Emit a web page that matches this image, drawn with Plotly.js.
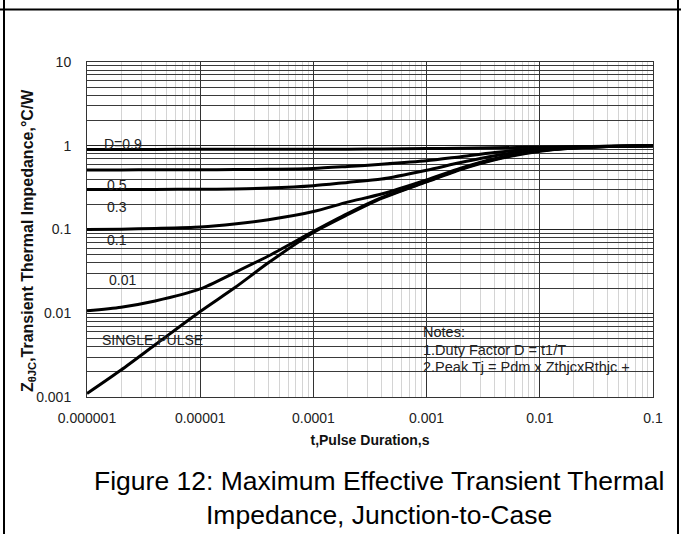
<!DOCTYPE html>
<html>
<head>
<meta charset="utf-8">
<script src="https://cdn.plot.ly/plotly-3.0.1.min.js"></script>
<style>html,body{margin:0;padding:0;background:#fff;}#chart{width:681px;height:534px;}</style>
</head>
<body>
<div id="chart"></div>
<script>
// Pulse duration (s)
var pulseTime = [1e-6, 2e-6, 4e-6, 1e-5, 2e-5, 4e-5, 1e-4, 2e-4, 4e-4, 1e-3, 2e-3, 4e-3, 1e-2, 2e-2, 4e-2, 1e-1];
// Transient thermal impedance (°C/W) per duty factor
var zD09    = [0.905, 0.905, 0.905, 0.906, 0.906, 0.907, 0.908, 0.910, 0.915, 0.925, 0.935, 0.945, 0.960, 0.975, 0.988, 1.0];
var zD05    = [0.515, 0.515, 0.516, 0.517, 0.519, 0.523, 0.535, 0.565, 0.600, 0.660, 0.740, 0.830, 0.930, 0.965, 0.985, 1.0];
var zD03    = [0.300, 0.300, 0.301, 0.302, 0.305, 0.312, 0.333, 0.365, 0.400, 0.510, 0.630, 0.760, 0.900, 0.950, 0.980, 1.0];
var zD01    = [0.100, 0.101, 0.103, 0.107, 0.116, 0.131, 0.164, 0.212, 0.265, 0.390, 0.540, 0.700, 0.880, 0.940, 0.980, 1.0];
var zD001   = [0.0107, 0.0118, 0.0140, 0.0195, 0.0304, 0.0483, 0.095, 0.155, 0.240, 0.375, 0.530, 0.690, 0.870, 0.940, 0.980, 1.0];
var zSingle = [0.0011, 0.0021, 0.0042, 0.0105, 0.0200, 0.0400, 0.092, 0.150, 0.235, 0.370, 0.520, 0.680, 0.860, 0.940, 0.980, 1.0];

var seriesNames = ["D=0.9", "0.5", "0.3", "0.1", "0.01", "SINGLE PULSE"];
var seriesValues = [zD09, zD05, zD03, zD01, zD001, zSingle];

var xTickVals = [1e-6, 1e-5, 1e-4, 1e-3, 1e-2, 1e-1];
var xTickText = ["0.000001", "0.00001", "0.0001", "0.001", "0.01", "0.1"];
var yTickVals = [0.001, 0.01, 0.1, 1, 10];
var yTickText = ["0.001", "0.01", "0.1", "1", "10"];

var curveLabels = ["D=0.9", "0.5", "0.3", "0.1", "0.01", "SINGLE PULSE"];
var notesLines = ["Notes:", "1.Duty Factor D = t1/T", "2.Peak Tj = Pdm x ZthjcxRthjc +"];
var captionLines = ["Figure 12: Maximum Effective Transient Thermal", "Impedance, Junction-to-Case"];

var FONT = "Liberation Sans, Arial, sans-serif";

// plot area geometry (px) for converting placement to paper coords
var W = 681, H = 534, L = 87, R = 28, T = 62, B = 137;
var PW = W - L - R, PH = H - T - B;
function px(x){ return (x - L) / PW; }
function py(y){ return (H - B - y) / PH; }

var traces = seriesValues.map(function(v, i){
  return {
    x: pulseTime, y: v, type: "scatter", mode: "lines", name: seriesNames[i],
    line: {color: "#000", width: 3, shape: "spline", smoothing: 0.7},
    showlegend: false, hoverinfo: "skip"
  };
});

var labelPos = [[102,144],[105,185],[105,207],[105,240],[107,280],[100,340]];
var annotations = curveLabels.map(function(t, i){
  return {text: t, xref: "paper", yref: "paper", x: px(labelPos[i][0]), y: py(labelPos[i][1]),
    xanchor: "left", yanchor: "middle", showarrow: false, font: {family: FONT, size: 14, color: "#222"}};
});
var notesY = [332, 349.5, 367];
notesLines.forEach(function(t, i){
  annotations.push({text: t, xref: "paper", yref: "paper", x: px(421), y: py(notesY[i]),
    xanchor: "left", yanchor: "middle", showarrow: false, font: {family: FONT, size: 14.5, color: "#222"}});
});
var capY = [480.5, 514.5];
captionLines.forEach(function(t, i){
  annotations.push({text: t, xref: "paper", yref: "paper", x: px(379), y: py(capY[i]),
    xanchor: "center", yanchor: "middle", showarrow: false, font: {family: FONT, size: 26.5, color: "#000"}});
});
// y axis title
annotations.push({text: "Z<sub>θJC</sub>,Transient Thermal Impedance,°C/W", xref: "paper", yref: "paper",
  x: px(28), y: py(241), textangle: -90, xanchor: "center", yanchor: "middle", showarrow: false,
  font: {family: FONT, size: 16, color: "#111", weight: "bold"}});

var shapes = [
  {type: "line", xref: "paper", yref: "paper", x0: px(0), x1: px(681), y0: py(9.5), y1: py(9.5), line: {color: "#000", width: 2}},
  {type: "line", xref: "paper", yref: "paper", x0: px(4), x1: px(4), y0: py(0), y1: py(534), line: {color: "#000", width: 2}},
  {type: "line", xref: "paper", yref: "paper", x0: px(678), x1: px(678), y0: py(0), y1: py(534), line: {color: "#000", width: 2}}
];

var layout = {
  width: W, height: H,
  margin: {l: L, r: R, t: T, b: B, pad: 0},
  paper_bgcolor: "#fff", plot_bgcolor: "#fff",
  font: {family: FONT, size: 14, color: "#222"},
  showlegend: false,
  xaxis: {
    type: "log", range: [-6, -1], tickmode: "array", tickvals: xTickVals, ticktext: xTickText,
    ticks: "outside", ticklen: 8, tickcolor: "rgba(0,0,0,0)",
    showgrid: true, gridcolor: "#333", gridwidth: 1,
    minor: {dtick: "D1", showgrid: true, gridcolor: "#d4d4d4", gridwidth: 1, ticks: ""},
    showline: true, linecolor: "#333", linewidth: 1, mirror: true, zeroline: false,
    tickfont: {family: FONT, size: 14, color: "#222"},
    title: {text: "t,Pulse Duration,s", font: {family: FONT, size: 14, color: "#111", weight: "bold"}, standoff: 10}
  },
  yaxis: {
    type: "log", range: [-3, 1], tickmode: "array", tickvals: yTickVals, ticktext: yTickText,
    ticks: "outside", ticklen: 12, tickcolor: "rgba(0,0,0,0)",
    showgrid: true, gridcolor: "#222", gridwidth: 1,
    minor: {dtick: "D1", showgrid: true, gridcolor: "#3a3a3a", gridwidth: 1, ticks: ""},
    showline: true, linecolor: "#333", linewidth: 1, mirror: true, zeroline: false,
    tickfont: {family: FONT, size: 14, color: "#222"}
  },
  annotations: annotations,
  shapes: shapes
};

Plotly.newPlot("chart", traces, layout, {staticPlot: true, displayModeBar: false});
</script>
</body>
</html>
